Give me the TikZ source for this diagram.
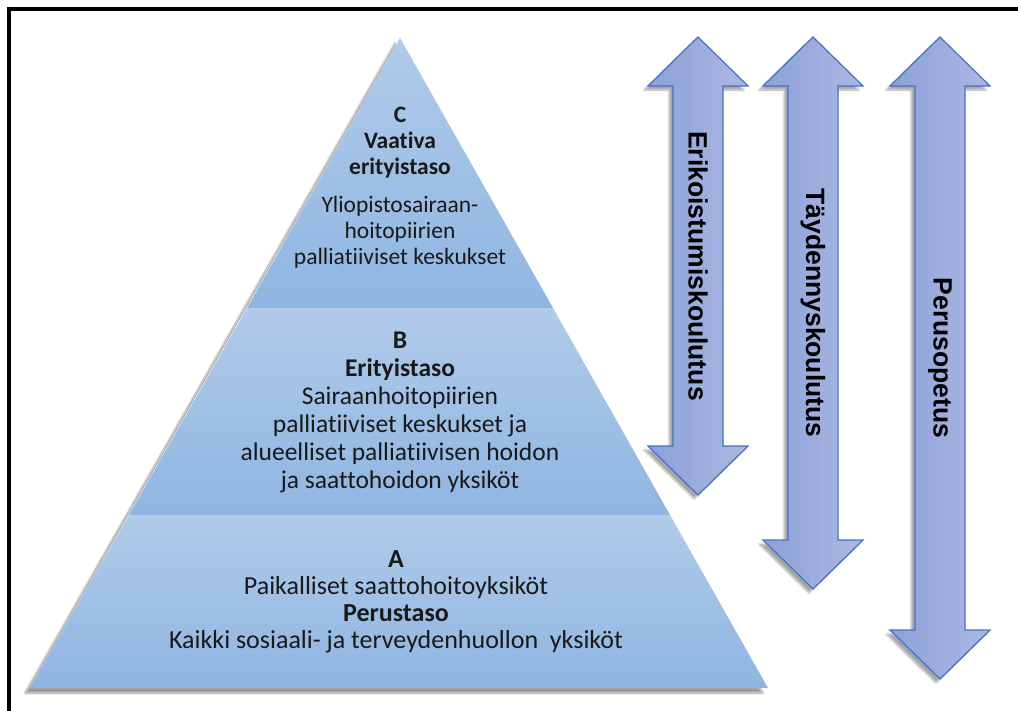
\documentclass[tikz,border=0pt]{standalone}
\usepackage{fontspec}
\setmainfont{Carlito}[RawFeature={-liga;-dlig;-calt;-clig}]
\newfontfamily\arrowfont{Liberation Sans}
\usepackage{tikz}
\usetikzlibrary{shadows.blur}

\definecolor{bandtop}{RGB}{177,203,233}
\definecolor{bandbottom}{RGB}{142,181,226}
\definecolor{arrowleft}{RGB}{140,161,216}
\definecolor{arrowright}{RGB}{171,184,226}
\definecolor{arrowedge}{RGB}{68,114,196}

\tikzset{
  band/.style={top color=bandtop, bottom color=bandbottom, draw=none},
  twowaybody/.style={left color=arrowleft, right color=arrowright, draw=arrowedge, line width=1.2pt, line join=miter,
    blur shadow={shadow xshift=-4pt, shadow yshift=-4pt, shadow opacity=35, shadow blur steps=8}},
  arrowtext/.style={font=\arrowfont\bfseries\fontsize{26.5}{30}\selectfont, rotate=-90, inner sep=0pt},
  leveltext/.style={align=center, inner sep=0pt, text=black!90}
}

% vertical double arrow: centre x, top tip y, bottom tip y
\newcommand\twoway[3]{%
  \draw[twowaybody] (#1,#2) -- (#1+50,#2+49) -- (#1+25,#2+49) -- (#1+25,#3-49) -- (#1+50,#3-49)
    -- (#1,#3) -- (#1-50,#3-49) -- (#1-25,#3-49) -- (#1-25,#2+49) -- (#1-50,#2+49) -- cycle;}

\begin{document}
\begin{tikzpicture}[x=1pt,y=-1pt]
\useasboundingbox (0,0) rectangle (1018,711);

% frame
\draw[line width=4pt] (9,711) -- (9,9) -- (1018,9);

% pyramid shadow, then the three levels
\fill[white, blur shadow={shadow xshift=-5pt, shadow yshift=-5pt, shadow opacity=40, shadow blur steps=10}]
  (400,38) -- (768,688) -- (30,688) -- cycle;
\shade[band] (400,38) -- (553,308) -- (247,308) -- cycle;
\shade[band] (247,308) -- (553,308) -- (670,515) -- (129,515) -- cycle;
\shade[band] (129,515) -- (670,515) -- (768,688) -- (30,688) -- cycle;

\node (levelC) at (400,188) [leveltext, font=\fontsize{23.5}{26}\selectfont]
  {{\bfseries C}\\{\bfseries Vaativa}\\{\bfseries erityistaso}\\[12pt]
   Yliopistosairaan-\\hoitopiirien\\palliatiiviset keskukset};
\node (levelB) at (400,412) [leveltext, font=\fontsize{25.5}{28}\selectfont]
  {{\bfseries B}\\{\bfseries Erityistaso}\\Sairaanhoitopiirien\\palliatiiviset keskukset ja\\
   alueelliset palliatiivisen hoidon\\ja saattohoidon yksiköt};
\node (levelA) at (396,602) [leveltext, font=\fontsize{26}{27}\selectfont]
  {{\bfseries A}\\Paikalliset saattohoitoyksiköt\\{\bfseries Perustaso}\\
   Kaikki sosiaali- ja terveydenhuollon\ \ yksiköt};

% training arrows
\twoway{698}{37}{495}
\twoway{813}{37}{589}
\twoway{940}{37}{679}
\node (erikoistuminen) at (698,266) [arrowtext] {Erikoistumiskoulutus};
\node (taydennys) at (813,313) [arrowtext] {Täydennyskoulutus};
\node (perus) at (940,358) [arrowtext] {Perusopetus};
\end{tikzpicture}
\end{document}
